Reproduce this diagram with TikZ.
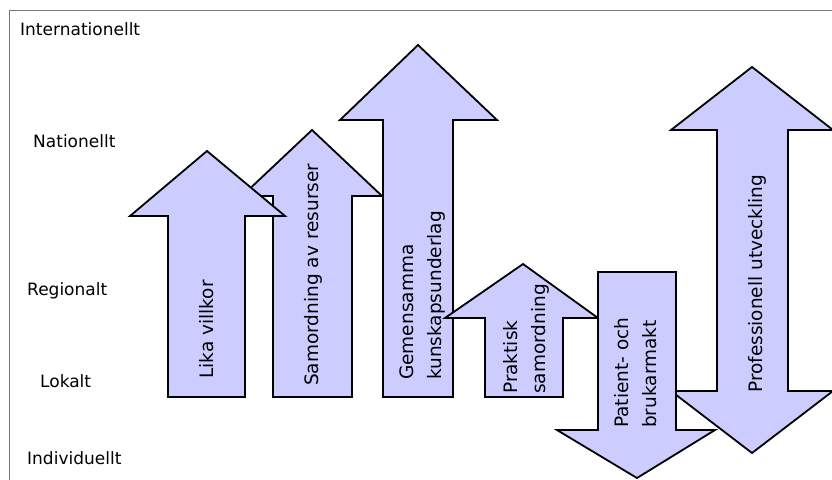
\documentclass[tikz,border=0pt]{standalone}
\usepackage{fontspec}
\setmainfont{DejaVu Sans}
\definecolor{lavender}{HTML}{CCCCFF}
\definecolor{framegray}{HTML}{777777}

\tikzset{
  blockarrow/.style={fill=lavender, draw=black, line width=1.8pt, line join=miter},
  level/.style={anchor=base west, inner sep=0pt, font=\fontsize{17}{20}\selectfont},
  arrowtext/.style={rotate=90, anchor=base west, inner sep=0pt, align=left,
    font=\fontsize{18.5}{28}\selectfont}
}

\begin{document}
\begin{tikzpicture}[x=1pt,y=-1pt]
  \useasboundingbox (0,0) rectangle (832,479);
  \draw[framegray, line width=1pt] (834,10) -- (9,10) -- (9,481);

  \node[level] (intl) at (20,35) {Internationellt};
  \node[level] (natl) at (33,147) {Nationellt};
  \node[level] (regl) at (27,295) {Regionalt};
  \node[level] (lokl) at (40,387) {Lokalt};
  \node[level] (indl) at (27,464) {Individuellt};

  \draw[blockarrow] (273,397) -- (273,196) -- (242,196) -- (312,130) -- (382,196) -- (352,196) -- (352,397) -- cycle;
  \draw[blockarrow] (168,397) -- (168,216) -- (130,216) -- (207,151) -- (285,216) -- (245,216) -- (245,397) -- cycle;
  \draw[blockarrow] (383,397) -- (383,120) -- (340,120) -- (418,45) -- (497,120) -- (453,120) -- (453,397) -- cycle;
  \draw[blockarrow] (485,397) -- (485,318) -- (445,318) -- (523,264) -- (598,318) -- (563,318) -- (563,397) -- cycle;
  \draw[blockarrow] (717,130) -- (671,130) -- (752,67) -- (833,130) -- (788,130) -- (788,391) -- (833,391) -- (752,453) -- (671,391) -- (717,391) -- cycle;
  \draw[blockarrow] (598,272) -- (676,272) -- (676,430) -- (715,430) -- (637,478) -- (557,430) -- (598,430) -- cycle;

  \node[arrowtext] (lika) at (213,379) {Lika villkor};
  \node[arrowtext] (samr) at (318,386) {Samordning av resurser};
  \node[arrowtext] (gems) at (441,380) {Gemensamma\\kunskapsunderlag};
  \node[arrowtext] (prak) at (545,394) {Praktisk\\samordning};
  \node[arrowtext] (pati) at (656,428) {Patient- och\\brukarmakt};
  \node[arrowtext] (prof) at (762,393) {Professionell utveckling};
\end{tikzpicture}
\end{document}
